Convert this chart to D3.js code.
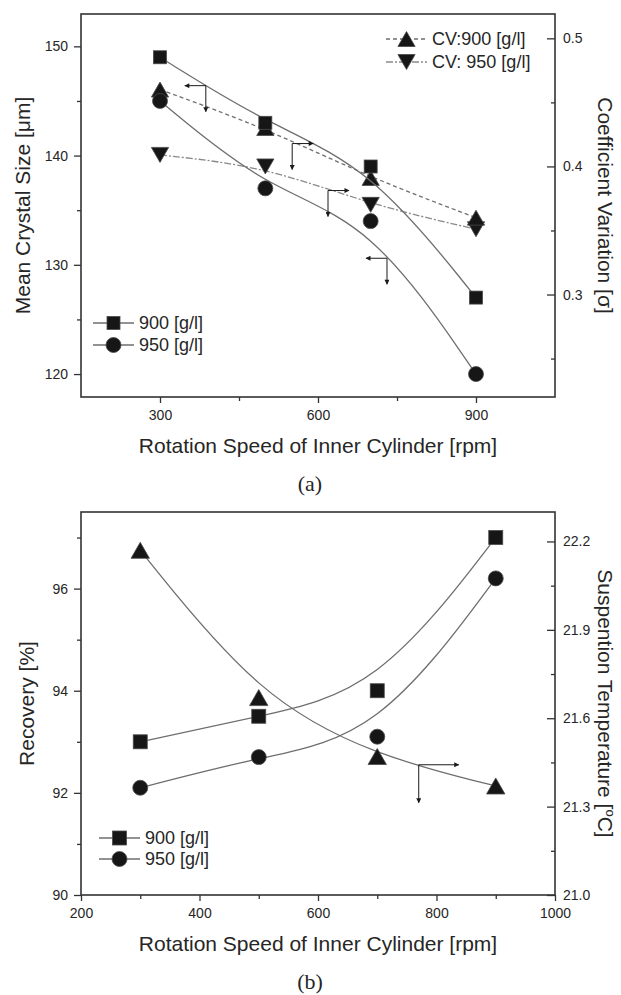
<!DOCTYPE html>
<html>
<head>
<meta charset="utf-8">
<script src="https://cdn.jsdelivr.net/npm/d3@7"></script>
<style>
  body { margin: 0; background: #fff; }
  text { font-family: "Liberation Sans", Arial, sans-serif; fill: #262626; }
</style>
</head>
<body>
<script>
// values
const speeds = [300, 500, 700, 900];

// panel (a)
const sizeA900 = [149, 143, 139, 127];
const sizeA950 = [145, 137, 134, 120];
const cvA900 = [0.46, 0.43, 0.391, 0.36];
const cvA950 = [0.409, 0.40, 0.37, 0.351];
const xTicksA = [300, 600, 900];
const xMinorA = [450, 750];
const leftTicksA = [120, 130, 140, 150];
const leftMinorA = [125, 135, 145];
const rightTicksA = [0.3, 0.4, 0.5];
const rightMinorA = [0.25, 0.35, 0.45];
// arrow corners: x in rpm, y in left axis units
const arrowsA = [
    {x: 387, y: 146.4, dir: "left"},
    {x: 551, y: 141.1, dir: "right"},
    {x: 619, y: 136.8, dir: "right"},
    {x: 731, y: 130.6, dir: "left"}
];

// panel (b)
const recB900 = [93.0, 93.5, 94.0, 97.0];
const recB950 = [92.1, 92.7, 93.1, 96.2];
const tempB = [22.17, 21.67, 21.47, 21.37];
const xTicksB = [200, 400, 600, 800, 1000];
const xMinorB = [300, 500, 700, 900];
const leftTicksB = [90, 92, 94, 96];
const leftMinorB = [91, 93, 95, 97];
const rightTicksB = [21.0, 21.3, 21.6, 21.9, 22.2];
const rightMinorB = [21.15, 21.45, 21.75, 22.05];
const arrowsB = [
    {x: 770, y: 92.55, dir: "right"}
];

const W = 621, H = 995;
const svg = d3.select("body").append("svg")
    .attr("width", W)
    .attr("height", H);

svg.append("defs").append("marker")
    .attr("id", "head")
    .attr("viewBox", "0 0 10 10")
    .attr("refX", 9)
    .attr("refY", 5)
    .attr("markerWidth", 8)
    .attr("markerHeight", 5)
    .attr("markerUnits", "userSpaceOnUse")
    .attr("orient", "auto")
    .append("path")
    .attr("d", "M0,0 L10,5 L0,10 Z")
    .attr("fill", "#1a1a1a");

const lineGrey = "#6e6e6e";

function drawMarker(g, type, cx, cy, s) {
    let sel;
    if (type == "square") {
        sel = g.append("rect")
            .attr("x", cx - s / 2).attr("y", cy - s / 2)
            .attr("width", s).attr("height", s);
    }
    else if (type == "circle") {
        sel = g.append("circle")
            .attr("cx", cx).attr("cy", cy).attr("r", s / 2);
    }
    else {
        let w = s * 1.15, h = s;
        let d = type == "up"
            ? `M${cx},${cy - h / 2} L${cx + w / 2},${cy + h / 2} L${cx - w / 2},${cy + h / 2} Z`
            : `M${cx},${cy + h / 2} L${cx + w / 2},${cy - h / 2} L${cx - w / 2},${cy - h / 2} Z`;
        sel = g.append("path").attr("d", d);
    }
    sel.attr("fill", "#161616")
        .attr("stroke", "#4a4a4a")
        .attr("stroke-width", 0.8);
}

function drawAxes(g, p) {
    let frame = g.append("g");

    let bottom = g.append("g").attr("transform", `translate(0,${p.bottom})`);
    bottom.call(d3.axisBottom(p.x).tickValues(p.xTicks).tickSize(6).tickPadding(7.5)
        .tickFormat(d3.format("d")));
    bottom.append("g").call(d3.axisBottom(p.x).tickValues(p.xMinor).tickSize(4).tickFormat(""));

    let left = g.append("g").attr("transform", `translate(${p.left},0)`);
    left.call(d3.axisLeft(p.yL).tickValues(p.leftTicks).tickSize(7).tickPadding(6));
    left.append("g").call(d3.axisLeft(p.yL).tickValues(p.leftMinor).tickSize(4).tickFormat(""));

    let right = g.append("g").attr("transform", `translate(${p.right},0)`);
    right.call(d3.axisRight(p.yR).tickValues(p.rightTicks).tickSize(-8).tickPadding(8)
        .tickFormat(d3.format(p.rightFormat)));
    right.append("g").call(d3.axisRight(p.yR).tickValues(p.rightMinor).tickSize(-4).tickFormat(""));

    g.selectAll(".domain").remove();
    g.selectAll(".tick line").attr("stroke", "#333").attr("stroke-width", 1.3);
    g.selectAll(".tick text").attr("font-size", 14).attr("fill", "#333")
        .style("font-family", "'Liberation Sans', Arial, sans-serif");

    frame.append("rect")
        .attr("x", p.left).attr("y", p.top)
        .attr("width", p.right - p.left).attr("height", p.bottom - p.top)
        .attr("fill", "none")
        .attr("stroke", "#333")
        .attr("stroke-width", 1.6);

    // titles
    g.append("text")
        .attr("x", (p.left + p.right) / 2).attr("y", p.bottom + 56)
        .attr("text-anchor", "middle").attr("font-size", 21)
        .text("Rotation Speed of Inner Cylinder [rpm]");

    let cy = (p.top + p.bottom) / 2;
    g.append("text")
        .attr("transform", `translate(${p.leftTitleX},${cy}) rotate(-90)`)
        .attr("text-anchor", "middle").attr("dy", "0.35em").attr("font-size", 21)
        .text(p.leftTitle);

    let rt = g.append("text")
        .attr("transform", `translate(605,${cy}) rotate(90)`)
        .attr("text-anchor", "middle").attr("dy", "0.35em").attr("font-size", 21);
    p.rightTitle(rt);

    g.append("text")
        .attr("x", (p.left + p.right) / 2 - 8).attr("y", p.bottom + 94)
        .attr("text-anchor", "middle").attr("font-size", 22)
        .style("font-family", "'Liberation Serif', 'Times New Roman', serif")
        .text(p.label);
}

function drawSeries(g, p, s) {
    let y = s.axis == "right" ? p.yR : p.yL;
    let pts = speeds.map((v, i) => [p.x(v), y(s.values[i])]);
    g.append("path")
        .attr("d", d3.line().curve(d3.curveBasis)(pts))
        .attr("fill", "none")
        .attr("stroke", s.color || lineGrey)
        .attr("stroke-width", 1.3)
        .attr("stroke-dasharray", s.dash || null);
    pts.forEach(pt => drawMarker(g, s.shape, pt[0], pt[1], s.size));
}

function drawArrows(g, p, list, hLen, vLen) {
    list.forEach(a => {
        let cx = p.x(a.x), cy = p.yL(a.y);
        let hx = a.dir == "left" ? cx - hLen : cx + hLen;
        g.append("line")
            .attr("x1", cx).attr("y1", cy).attr("x2", hx).attr("y2", cy)
            .attr("stroke", "#1a1a1a").attr("stroke-width", 1)
            .attr("marker-end", "url(#head)");
        g.append("line")
            .attr("x1", cx).attr("y1", cy).attr("x2", cx).attr("y2", cy + vLen)
            .attr("stroke", "#1a1a1a").attr("stroke-width", 1)
            .attr("marker-end", "url(#head)");
    });
}

function drawLegend(g, rows, x0, y0, step) {
    rows.forEach((r, i) => {
        let yy = y0 + i * step;
        g.append("line")
            .attr("x1", x0).attr("y1", yy).attr("x2", x0 + 41).attr("y2", yy)
            .attr("stroke", r.color || lineGrey).attr("stroke-width", 1.3)
            .attr("stroke-dasharray", r.dash || null);
        drawMarker(g, r.shape, x0 + 20.5, yy, r.size);
        g.append("text")
            .attr("x", x0 + 46).attr("y", yy).attr("dy", "0.35em")
            .attr("font-size", 18)
            .text(r.label);
    });
}

// ---------- panel (a) ----------
const pA = {
    left: 81, right: 555, top: 14, bottom: 397,
    xTicks: xTicksA, xMinor: xMinorA,
    leftTicks: leftTicksA, leftMinor: leftMinorA,
    rightTicks: rightTicksA, rightMinor: rightMinorA, rightFormat: ".1f",
    leftTitle: "Mean Crystal Size [\u03bcm]", leftTitleX: 23,
    rightTitle: t => t.text("Coefficient Variation [\u03c3]"),
    label: "(a)"
};
pA.x = d3.scaleLinear().domain([150, 1050]).range([pA.left, pA.right]);
pA.yL = d3.scaleLinear().domain([117.9, 152.96]).range([pA.bottom, pA.top]);
pA.yR = d3.scaleLinear().domain([0.22, 0.519]).range([pA.bottom, pA.top]);

const gA = svg.append("g");
drawAxes(gA, pA);
const seriesA = [
    {values: cvA950, axis: "right", shape: "down", size: 15, dash: "7,2,2,2", color: "#8a8a8a", label: "CV: 950 [g/l]"},
    {values: cvA900, axis: "right", shape: "up", size: 15, dash: "4,3", label: "CV:900 [g/l]"},
    {values: sizeA950, axis: "left", shape: "circle", size: 15, label: "950 [g/l]"},
    {values: sizeA900, axis: "left", shape: "square", size: 13, label: "900 [g/l]"}
];
seriesA.forEach(s => drawSeries(gA, pA, s));
drawArrows(gA, pA, arrowsA, 21, 26);
drawLegend(gA, [seriesA[3], seriesA[2]], 93, 323, 22);
drawLegend(gA, [seriesA[1], seriesA[0]], 386, 39, 23);

// ---------- panel (b) ----------
const pB = {
    left: 81, right: 555, top: 512, bottom: 895,
    xTicks: xTicksB, xMinor: xMinorB,
    leftTicks: leftTicksB, leftMinor: leftMinorB,
    rightTicks: rightTicksB, rightMinor: rightMinorB, rightFormat: ".1f",
    leftTitle: "Recovery [%]", leftTitleX: 27,
    rightTitle: t => {
        t.append("tspan").text("Suspention Temperature [");
        t.append("tspan").attr("font-size", 13).attr("dy", -8).text("o");
        t.append("tspan").attr("dy", 8).text("C]");
    },
    label: "(b)"
};
pB.x = d3.scaleLinear().domain([200, 1000]).range([pB.left, pB.right]);
pB.yL = d3.scaleLinear().domain([90, 97.5]).range([pB.bottom, pB.top]);
pB.yR = d3.scaleLinear().domain([21.0, 22.3]).range([pB.bottom, pB.top]);

const gB = svg.append("g");
drawAxes(gB, pB);
const seriesB = [
    {values: tempB, axis: "right", shape: "up", size: 16},
    {values: recB950, axis: "left", shape: "circle", size: 15, label: "950 [g/l]"},
    {values: recB900, axis: "left", shape: "square", size: 14, label: "900 [g/l]"}
];
seriesB.forEach(s => drawSeries(gB, pB, s));
drawArrows(gB, pB, arrowsB, 40, 38);
drawLegend(gB, [seriesB[2], seriesB[1]], 99, 838, 21);
</script>
</body>
</html>
